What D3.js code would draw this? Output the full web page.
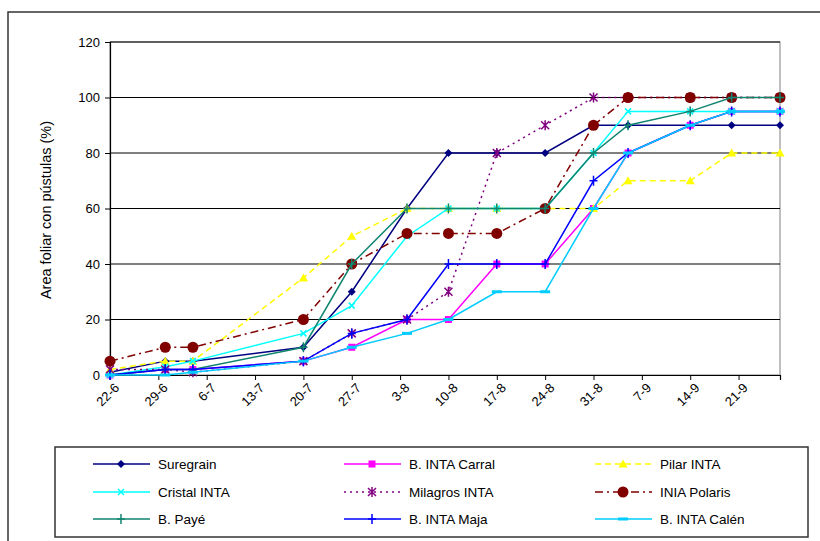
<!DOCTYPE html>
<html>
<head>
<meta charset="utf-8">
<script src="https://cdn.jsdelivr.net/npm/d3@7"></script>
<style>
  body { margin: 0; background: #fff; }
  text { font-family: "Liberation Sans", Arial, sans-serif; fill: #000; }
</style>
</head>
<body>
<svg id="chart_svg"></svg>
<script>
// fechas de lectura (dd-m)
const fechas = ["22-6","30-6","4-7","20-7","27-7","4-8","10-8","17-8","24-8","31-8","5-9","14-9","20-9","27-9"];
const tickFechas = ["22-6","29-6","6-7","13-7","20-7","27-7","3-8","10-8","17-8","24-8","31-8","7-9","14-9","21-9"];
const yTicks = [0, 20, 40, 60, 80, 100, 120];

const suregrain = [1,5,5,10,30,60,80,80,80,90,90,90,90,90];
const carral    = [0,2,2,5,10,20,20,40,40,60,80,90,95,95];
const pilar     = [2,5,5,35,50,60,60,60,60,60,70,70,80,80];
const cristal   = [0,3,5,15,25,50,60,60,60,80,95,95,95,95];
const milagros  = [2,2,1,5,15,20,30,80,90,100,100,100,100,100];
const polaris   = [5,10,10,20,40,51,51,51,60,90,100,100,100,100];
const paye      = [0,2,2,10,40,60,60,60,60,80,90,95,100,100];
const maja      = [0,2,2,5,15,20,40,40,40,70,80,90,95,95];
const calen     = [0,0,1,5,10,15,20,30,30,60,80,90,95,95];

const seriesNames = ["Suregrain","B. INTA Carral","Pilar INTA","Cristal INTA","Milagros INTA","INIA Polaris","B. Payé","B. INTA Maja","B. INTA Calén"];
const seriesValues = [suregrain, carral, pilar, cristal, milagros, polaris, paye, maja, calen];

const parse = d3.timeParse("%d-%m-%Y");
const toDate = s => parse(s + "-2005");

const width = 820, height = 541;
const svg = d3.select("#chart_svg").attr("width", width).attr("height", height);

// estilos por serie
const styles = [
  { color: "#000080", dash: null,      marker: "diamond" },
  { color: "#FF00FF", dash: null,      marker: "square" },
  { color: "#FFFF00", dash: "6,4",     marker: "triangle" },
  { color: "#00FFFF", dash: null,      marker: "x" },
  { color: "#800080", dash: "2,4",     marker: "star" },
  { color: "#800000", dash: "8,4,2,4", marker: "circle" },
  { color: "#108570", dash: null,      marker: "plus" },
  { color: "#0000FF", dash: null,      marker: "plus" },
  { color: "#00CCFF", dash: null,      marker: "dash" }
];

// marco exterior
svg.append("rect")
  .attr("x", 8).attr("y", 12).attr("width", 840).attr("height", 560)
  .attr("fill", "none").attr("stroke", "#333").attr("stroke-width", 1.5);

const x = d3.scaleTime()
  .domain([toDate("22-6"), toDate("27-9")])
  .range([110, 780]);
const y = d3.scaleLinear().domain([0, 120]).range([375, 42]);

// area del grafico
svg.append("rect")
  .attr("x", 110).attr("y", 42).attr("width", 670).attr("height", 333)
  .attr("fill", "none").attr("stroke", "#808080").attr("stroke-width", 1);

// lineas de grilla
svg.append("g")
  .selectAll("line")
  .data(yTicks.filter(d => d > 0))
  .enter().append("line")
  .attr("x1", 110).attr("x2", 780)
  .attr("y1", d => y(d)).attr("y2", d => y(d))
  .attr("stroke", "#000").attr("stroke-width", 1.2);

// eje y
const yAxis = svg.append("g")
  .attr("transform", "translate(110,0)")
  .call(d3.axisLeft(y).tickValues(yTicks).tickSize(5).tickPadding(5));
yAxis.select(".domain").attr("stroke", "#000").attr("stroke-width", 1.2);
yAxis.selectAll("line").attr("stroke", "#000");
yAxis.selectAll("text").attr("font-size", 13).attr("font-family", "Liberation Sans, Arial");

// eje x
const xAxis = svg.append("g")
  .attr("transform", "translate(0,375)")
  .call(d3.axisBottom(x).tickValues(tickFechas.map(toDate).concat([toDate("27-9")]))
    .tickFormat((d, i) => tickFechas[i] || "").tickSize(5));
xAxis.select(".domain").attr("stroke", "#000").attr("stroke-width", 1.2);
xAxis.selectAll("line").attr("stroke", "#000");
xAxis.selectAll("text")
  .attr("font-size", 13).attr("font-family", "Liberation Sans, Arial")
  .attr("text-anchor", "end")
  .attr("dy", 0)
  .attr("transform", "translate(4,8) rotate(-45)");

// titulo eje y
svg.append("text")
  .attr("transform", "translate(51,210) rotate(-90)")
  .attr("text-anchor", "middle")
  .attr("font-size", 14.5)
  .text("Area foliar con pústulas (%)");

const line = d3.line()
  .x((d, i) => x(toDate(fechas[i])))
  .y(d => y(d));

function drawMarker(g, type, color, cx, cy) {
  const s = 4;
  if (type === "diamond") {
    g.append("path").attr("d", `M${cx},${cy - s}L${cx + s},${cy}L${cx},${cy + s}L${cx - s},${cy}Z`).attr("fill", color);
  } else if (type === "square") {
    g.append("rect").attr("x", cx - 3.5).attr("y", cy - 3.5).attr("width", 7).attr("height", 7).attr("fill", color);
  } else if (type === "triangle") {
    g.append("path").attr("d", `M${cx},${cy - 4.5}L${cx + 4.5},${cy + 3.5}L${cx - 4.5},${cy + 3.5}Z`).attr("fill", color);
  } else if (type === "circle") {
    g.append("circle").attr("cx", cx).attr("cy", cy).attr("r", 5.5).attr("fill", color);
  } else if (type === "x") {
    g.append("path").attr("d", `M${cx - 3},${cy - 3}L${cx + 3},${cy + 3}M${cx - 3},${cy + 3}L${cx + 3},${cy - 3}`)
      .attr("stroke", color).attr("stroke-width", 1.5);
  } else if (type === "star") {
    g.append("path").attr("d", `M${cx - 4},${cy - 4}L${cx + 4},${cy + 4}M${cx - 4},${cy + 4}L${cx + 4},${cy - 4}M${cx},${cy - 5}L${cx},${cy + 5}`)
      .attr("stroke", color).attr("stroke-width", 1.5);
  } else if (type === "plus") {
    g.append("path").attr("d", `M${cx - 4},${cy}L${cx + 4},${cy}M${cx},${cy - 5}L${cx},${cy + 5}`)
      .attr("stroke", color).attr("stroke-width", 1.5);
  } else if (type === "dash") {
    g.append("path").attr("d", `M${cx - 5},${cy}L${cx + 5},${cy}`)
      .attr("stroke", color).attr("stroke-width", 3);
  }
}

// series
seriesValues.forEach((vals, k) => {
  const st = styles[k];
  const g = svg.append("g").attr("class", "serie");
  g.append("path")
    .datum(vals)
    .attr("d", line)
    .attr("fill", "none")
    .attr("stroke", st.color)
    .attr("stroke-width", 1.5)
    .attr("stroke-dasharray", st.dash);
  vals.forEach((v, i) => drawMarker(g, st.marker, st.color, x(toDate(fechas[i])), y(v)));
});

// leyenda
svg.append("rect")
  .attr("x", 55).attr("y", 447).attr("width", 753).attr("height", 90)
  .attr("fill", "#fff").attr("stroke", "#333").attr("stroke-width", 1.5);

const legCols = [93, 344, 595];
const legRows = [464, 492, 519];
seriesNames.forEach((name, k) => {
  const st = styles[k];
  const lx = legCols[k % 3], ly = legRows[Math.floor(k / 3)];
  const g = svg.append("g");
  g.append("line")
    .attr("x1", lx).attr("x2", lx + 57).attr("y1", ly).attr("y2", ly)
    .attr("stroke", st.color).attr("stroke-width", 1.5)
    .attr("stroke-dasharray", st.dash);
  drawMarker(g, st.marker, st.color, lx + 28, ly);
  g.append("text")
    .attr("x", lx + 65).attr("y", ly + 5)
    .attr("font-size", 13.5)
    .text(name);
});
</script>
</body>
</html>
